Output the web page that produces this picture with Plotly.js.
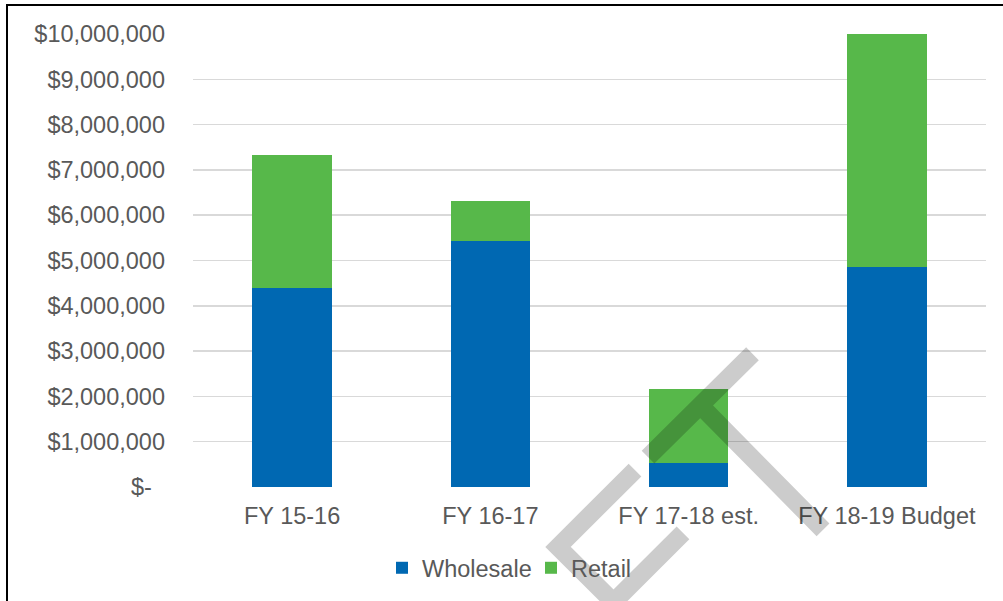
<!DOCTYPE html>
<html>
<head>
<meta charset="utf-8">
<script src="https://cdn.plot.ly/plotly-3.0.1.min.js"></script>
<style>html,body{margin:0;padding:0;background:#fff;}#chart{width:1003px;height:601px;}</style>
</head>
<body>
<div id="chart"></div>
<script>
// ---- data ----
const categories = ["FY 15-16", "FY 16-17", "FY 17-18 est.", "FY 18-19 Budget"];
const wholesale = [4390000, 5420000, 520000, 4850000];
const retail = [2950000, 900000, 1640000, 5150000];
const yTickVals = [0, 1000000, 2000000, 3000000, 4000000, 5000000, 6000000, 7000000, 8000000, 9000000, 10000000];
const yTickText = ["$-\u00a0\u00a0", "$1,000,000", "$2,000,000", "$3,000,000", "$4,000,000", "$5,000,000",
  "$6,000,000", "$7,000,000", "$8,000,000", "$9,000,000", "$10,000,000"];

// ---- layout geometry ----
const W = 1003, H = 601;
const M = {l: 193, r: 17, t: 34, b: 113};
const PW = W - M.l - M.r, PH = H - M.t - M.b;
const px = X => (X - M.l) / PW;
const py = Y => (H - M.b - Y) / PH;
function pathFrom(pts) {
  return pts.map(seg => seg.map((p, i) => (i ? 'L ' : 'M ') + px(p[0]).toFixed(4) + ',' + py(p[1]).toFixed(4)).join(' ')).join(' ');
}

const FONT = 'Liberation Sans, Arial, sans-serif';
const TXT = '#595959';

const traces = [
  {type: 'bar', name: 'Wholesale', x: categories, y: wholesale, marker: {color: '#0068b2'}, hoverinfo: 'none'},
  {type: 'bar', name: 'Retail', x: categories, y: retail, marker: {color: '#57b84a'}, hoverinfo: 'none'}
];

const layout = {
  width: W, height: H,
  margin: M,
  barmode: 'stack',
  bargap: 0.6,
  paper_bgcolor: '#ffffff',
  plot_bgcolor: '#ffffff',
  font: {family: FONT, size: 23.5, color: TXT},
  showlegend: true,
  legend: {orientation: 'h', x: px(382), xanchor: 'left', y: py(568), yanchor: 'middle',
    entrywidth: 104, entrywidthmode: 'pixels',
    font: {family: FONT, size: 23.5, color: TXT}, bgcolor: 'rgba(0,0,0,0)', traceorder: 'normal'},
  xaxis: {type: 'category', showgrid: false, zeroline: false, showline: false, ticks: '',
    tickfont: {family: FONT, size: 23.5, color: TXT}, ticklabelstandoff: 12, fixedrange: true},
  yaxis: {range: [0, 10000000], tickmode: 'array', tickvals: yTickVals, ticktext: yTickText,
    showgrid: true, gridcolor: '#d9d9d9', gridwidth: 1.5, zeroline: false, showline: false, ticks: '',
    tickfont: {family: FONT, size: 23.5, color: TXT}, ticklabelstandoff: 27, fixedrange: true},
  shapes: [
    {type: 'rect', xref: 'paper', yref: 'paper', x0: px(7), y0: py(5), x1: px(W + 20), y1: py(H + 20),
      line: {color: '#000000', width: 2}, fillcolor: 'rgba(0,0,0,0)', layer: 'above'},
    {type: 'path', xref: 'paper', yref: 'paper', layer: 'above',
      path: pathFrom([[[648, 458], [752.5, 354.5]], [[700.5, 406.5], [823, 531]], [[635, 471], [558, 548], [613.5, 603.5], [683, 534]]]),
      line: {color: 'rgba(0,0,0,0.2)', width: 18}, fillcolor: 'rgba(0,0,0,0)'}
  ]
};

Plotly.newPlot('chart', traces, layout, {staticPlot: true, displayModeBar: false});
</script>
</body>
</html>
